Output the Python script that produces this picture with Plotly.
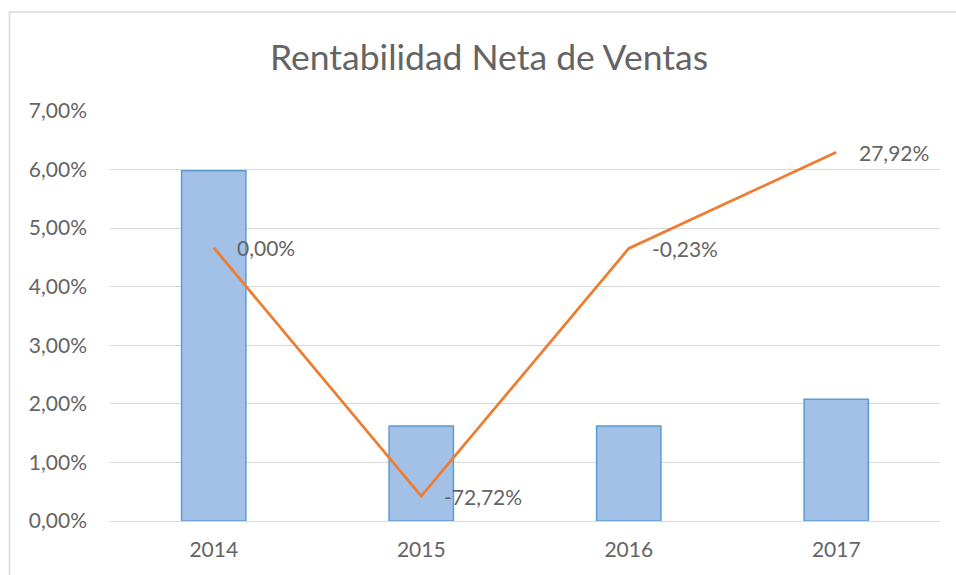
import plotly.graph_objects as go

years = ["2014", "2015", "2016", "2017"]
bar_values = [0.0598, 0.0162, 0.0162, 0.0208]
line_values = [0.0, -0.7272, -0.0023, 0.2792]
title_text = "Rentabilidad Neta de Ventas"

FONT = "Lato, Liberation Sans, sans-serif"
GRAY = "#646464"


def pct(v):
    return f"{v * 100:.2f}%".replace(".", ",")


fig = go.Figure()
fig.add_trace(go.Bar(
    x=years, y=bar_values,
    marker=dict(color="#a3c1e7", line=dict(color="#5b9bd5", width=1.5)),
    hoverinfo="skip", showlegend=False,
))
fig.add_trace(go.Scatter(
    x=years, y=line_values, yaxis="y2",
    mode="lines",
    line=dict(color="#ed7d31", width=2.75),
    showlegend=False,
))

annotations = [
    dict(x=i, y=v, xref="x", yref="y2", text=pct(v), showarrow=False,
         xanchor="left", yanchor="middle", xshift=21, yshift=0,
         font=dict(family=FONT, size=21, color=GRAY))
    for i, v in enumerate(line_values)
]

fig.update_layout(
    width=956, height=575,
    margin=dict(l=110, r=16, t=111, b=54),
    paper_bgcolor="white", plot_bgcolor="white",
    separators=",.",
    bargap=0.69,
    font=dict(family=FONT, color=GRAY),
    title=dict(text=title_text, x=489/956, xanchor="center", xref="container",
               y=1 - 58/575, yanchor="middle", yref="container",
               font=dict(family=FONT, size=35.5, color=GRAY)),
    xaxis=dict(type="category", showgrid=False, showline=False, ticks="",
               ticklabelstandoff=14,
               tickfont=dict(size=21, color=GRAY), range=[-0.5, 3.5]),
    yaxis=dict(range=[0, 0.07], dtick=0.01, tickformat=".2%", gridcolor="#d9d9d9",
               gridwidth=1, zeroline=True, zerolinecolor="#d9d9d9", zerolinewidth=1,
               showline=False, ticks="", ticklabelstandoff=22,
               tickfont=dict(size=21, color=GRAY)),
    yaxis2=dict(range=[-0.8, 0.4], overlaying="y", side="right", visible=False),
    annotations=annotations,
    shapes=[dict(type="rect", xref="paper", yref="paper",
                 x0=(9.5 - 110) / 830, x1=1.1, y0=-0.3, y1=(521 - 12) / 410,
                 line=dict(color="#d9d9d9", width=1.5), fillcolor="rgba(0,0,0,0)",
                 layer="below")],
)

fig.write_html("out.html", config={"displayModeBar": False},
               post_script="document.body.style.margin='0';")
